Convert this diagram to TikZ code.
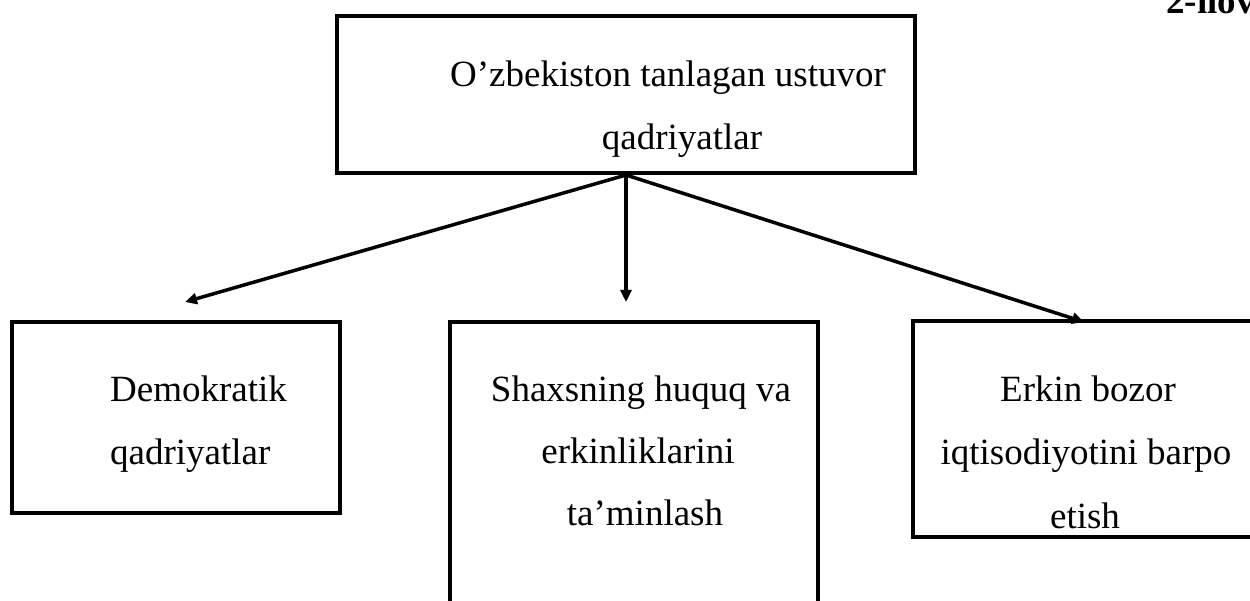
\documentclass[tikz,border=0pt]{standalone}
\usepackage{fontspec}
\setmainfont{Liberation Serif}
\usetikzlibrary{arrows.meta}
\begin{document}
\begin{tikzpicture}[x=1pt,y=-1pt,
  box/.style={draw,line width=4pt,rectangle,inner sep=0pt},
  lbl/.style={font=\fontsize{37}{44}\selectfont,anchor=base,inner sep=0pt},
  arr/.style={line width=3.5pt,-{Triangle[length=12pt,width=11pt]}}]
\useasboundingbox (0,0) rectangle (1250,601);
\clip (0,0) rectangle (1250,601);
% boxes
\node[box,minimum width=578pt,minimum height=157pt] (top) at (626,94.5) {};
\node[box,minimum width=328pt,minimum height=191pt] (left) at (176,417.5) {};
\node[box,minimum width=368pt,minimum height=378pt] (mid) at (634,511) {};
\node[box,minimum width=387pt,minimum height=216pt] (right) at (1106.5,429) {};
% texts
\node[lbl] (t1) at (668,87) {O’zbekiston tanlagan ustuvor};
\node[lbl] (t2) at (682,150) {qadriyatlar};
\node[lbl,anchor=base west] (l1) at (110,401) {Demokratik};
\node[lbl,anchor=base west] (l2) at (110,464) {qadriyatlar};
\node[lbl] (m1) at (641,402) {Shaxsning huquq va};
\node[lbl] (m2) at (638,463) {erkinliklarini};
\node[lbl] (m3) at (645,525) {ta’minlash};
\node[lbl] (r1) at (1088,401) {Erkin bozor};
\node[lbl] (r2) at (1086,464) {iqtisodiyotini barpo};
\node[lbl] (r3) at (1085,528) {etish};
\node[lbl,anchor=base west,font=\fontsize{37}{44}\selectfont\bfseries] (ilova) at (1166,14) {2-ilova};
% arrows
\coordinate (cl) at (185,302);
\coordinate (cm) at (626,302);
\coordinate (cr) at (1084,322);
\draw[arr] (top.south) -- (cl);
\draw[arr] (top.south) -- (cm);
\draw[arr] (top.south) -- (cr);
\end{tikzpicture}
\end{document}
